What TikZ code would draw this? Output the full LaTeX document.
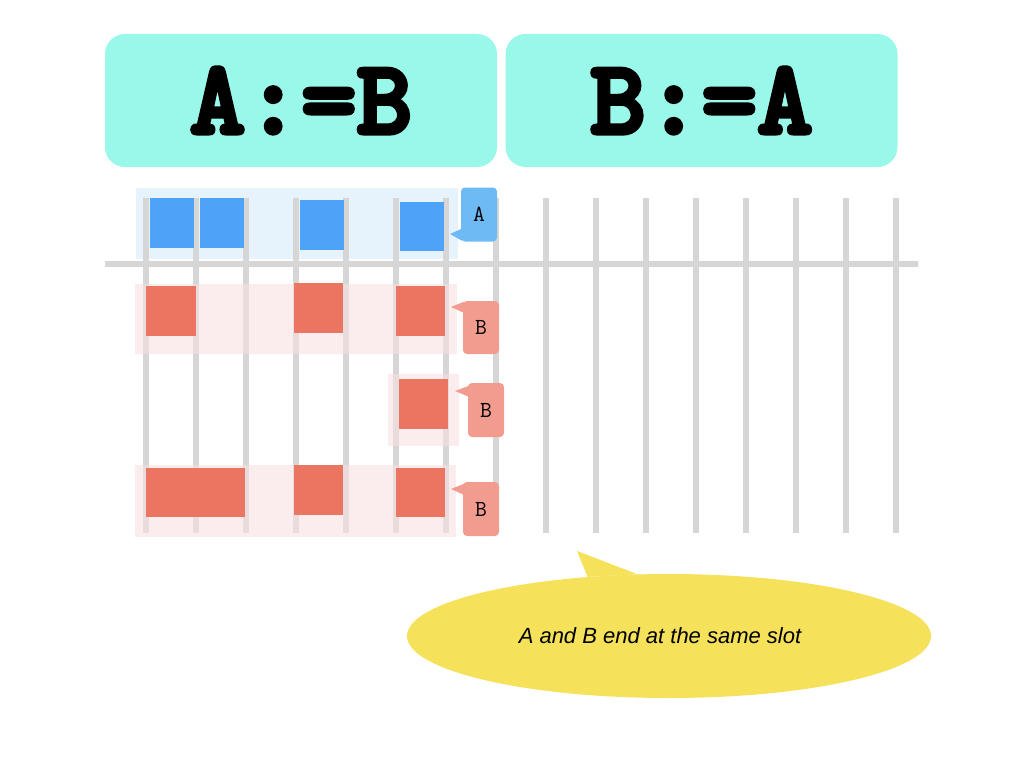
\documentclass[tikz,border=0pt]{standalone}
\usepackage{fontspec}
\setmainfont{Liberation Sans}
\newfontfamily\typefont[FakeBold=4]{lmmonolt10-bold.otf}
\usetikzlibrary{shapes.geometric}

\definecolor{hdrcol}{RGB}{153,248,233}
\definecolor{slotgrey}{RGB}{214,214,214}
\definecolor{sqblue}{RGB}{77,163,247}
\definecolor{bgblue}{RGB}{230,243,253}
\definecolor{tagblue}{RGB}{110,186,245}
\definecolor{sqred}{RGB}{236,117,98}
\definecolor{bgred}{RGB}{248,225,225}
\definecolor{tagred}{RGB}{242,156,144}
\definecolor{notecol}{RGB}{245,225,90}

\tikzset{
  hdr/.style={fill=hdrcol, rounded corners=20, minimum width=392, minimum height=133,
    inner sep=0, font=\typefont\fontsize{106}{106}\selectfont},
  slot/.style={line width=6, draw=slotgrey},
  bsq/.style={fill=sqblue, inner sep=0, minimum width=44, minimum height=50},
  rsq/.style={fill=sqred, inner sep=0, minimum width=49, minimum height=50},
  tag/.style={rounded corners=4, inner sep=0, minimum width=36, minimum height=54,
    font=\ttfamily\fontsize{23}{23}\selectfont},
}

\begin{document}
\begin{tikzpicture}[x=1pt, y=-1pt]
    \useasboundingbox (0,0) rectangle (1024,768);

    % headers
    \node [hdr](left) at (301,100.5) {A:=B};
    \node [hdr](right) at (701.5,100.5) {B:=A};

    % row backgrounds and slots
    \fill[bgblue] (136,188) rectangle (458,259);
    \foreach \x in {146,196,...,896}
        \draw[slot] (\x,198) -- (\x,533);
    \draw[slot] (105,264) -- (918,264);
    \fill[bgred, opacity=0.6] (135,284) rectangle (457,354);
    \fill[bgred, opacity=0.6] (388,374) rectangle (459,446);
    \fill[bgred, opacity=0.6] (135,465) rectangle (456,537);

    % A
    \node [bsq](a1) at (172,223) {};
    \node [bsq](a2) at (222,223) {};
    \node [bsq](a3) at (322,225) {};
    \node [bsq, minimum height=49](a4) at (422,226.5) {};

    % B
    \node [rsq, minimum width=50](b1) at (171,311) {};
    \node [rsq](b2) at (318.5,308) {};
    \node [rsq](b3) at (420.5,311) {};
    \node [rsq](c1) at (423.5,404) {};
    \node [rsq, minimum width=99, minimum height=49](d1) at (195.5,492.5) {};
    \node [rsq](d2) at (318.5,490) {};
    \node [rsq, minimum height=49](d3) at (420.5,492.5) {};

    % tags with pointers
    \node [tag, fill=tagblue](tA) at (479,214.5) {A};
    \node [tag, fill=tagred, minimum height=53](tB1) at (481,327.5) {B};
    \node [tag, fill=tagred](tB2) at (486,410) {B};
    \node [tag, fill=tagred](tB3) at (481,509) {B};
    \coordinate (pA) at (450,234);
    \coordinate (pB1) at (451,307);
    \coordinate (pB2) at (455,391);
    \coordinate (pB3) at (451,489);
    \fill[tagblue] ([xshift=1pt,yshift=13pt]tA.south west) -- (pA) -- ([xshift=1pt,yshift=1pt]tA.south west) -- cycle;
    \fill[tagred] ([xshift=1pt,yshift=-1pt]tB1.north west) -- (pB1) -- ([xshift=1pt,yshift=-12pt]tB1.north west) -- cycle;
    \fill[tagred] ([xshift=1pt,yshift=-3pt]tB2.north west) -- (pB2) -- ([xshift=1pt,yshift=-14pt]tB2.north west) -- cycle;
    \fill[tagred] ([xshift=1pt,yshift=-2pt]tB3.north west) -- (pB3) -- ([xshift=1pt,yshift=-13pt]tB3.north west) -- cycle;

    % note
    \node [ellipse, fill=notecol, inner sep=0, minimum width=524, minimum height=124](note) at (669,636) {};
    \node [font=\itshape\fontsize{22}{26}\selectfont](notetext) at (660,636) {A and B end at the same slot};
    \coordinate (pN) at (577,551);
    \fill[notecol] (note.144) -- (pN) -- (note.117) -- cycle;
\end{tikzpicture}
\end{document}
